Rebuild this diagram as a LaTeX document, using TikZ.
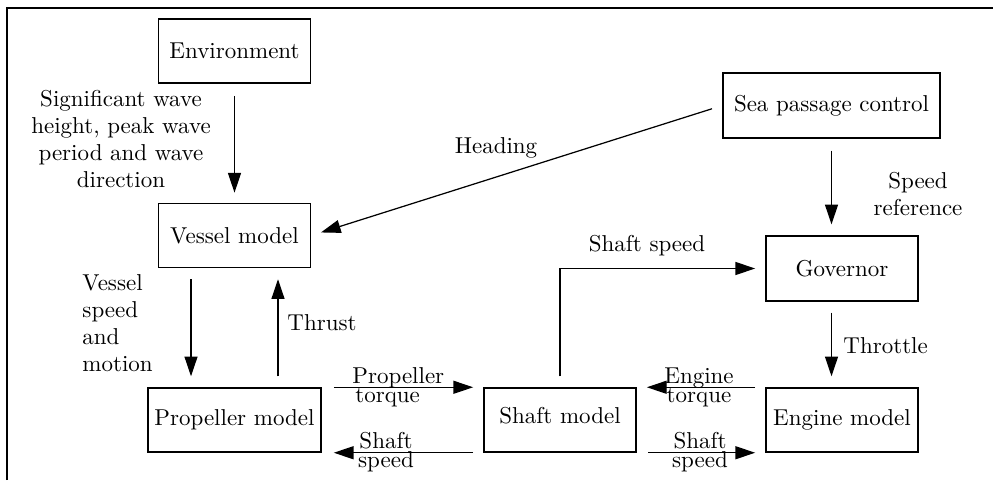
\documentclass[tikz,border=0pt]{standalone}
\usetikzlibrary{arrows.meta}
\begin{document}
\begin{tikzpicture}[x=0.446pt,y=-0.446pt,
  every node/.style={font={\fontsize{10.25}{12}\selectfont}},
  blk/.style={draw,line width=0.6pt,minimum width=67.9pt,minimum height=28.6pt,inner sep=0pt},
  arr/.style={line width=0.55pt,-{Triangle[length=8.8pt,width=5.8pt]}},
  lbl/.style={inner sep=0pt,align=center},
  tight/.style={inner sep=0pt,font={\fontsize{10.25}{8.5}\selectfont}},
  frame/.style={line width=0.6pt}]
\useasboundingbox (0,0) rectangle (993,480);
\draw[frame] (7,480) -- (7,8) -- (993,8);
% blocks
\node[blk] (env) at (234.5,51) {Environment};
\node[blk] (vessel) at (234.5,235.5) {Vessel model};
\node[blk,minimum width=96.8pt,minimum height=29pt] (sea) at (831.5,105.5) {Sea passage control};
\node[blk,minimum height=29pt] (gov) at (842,268.5) {Governor};
\node[blk,minimum width=77.2pt] (prop) at (234.5,420) {Propeller model};
\node[blk] (shaft) at (560,420) {\raisebox{4pt}{Shaft model}};
\node[blk] (engine) at (842,420) {Engine model};
% connectors
\draw[arr,shorten <=5.4pt,shorten >=4.5pt] (env) -- (vessel);
\draw[arr,shorten <=4.8pt,shorten >=4.5pt] (sea.west) -- (vessel.east);
\draw[arr,shorten <=5.3pt,shorten >=4.9pt] (sea.south) -- (sea.south |- gov.north);
\draw[arr,shorten <=4.9pt,shorten >=4.9pt] ([xshift=-19.4pt]vessel.south) -- ([xshift=-19.4pt]prop.north);
\draw[arr,shorten <=4.9pt,shorten >=4.9pt] ([xshift=19.4pt]prop.north) -- ([xshift=19.4pt]vessel.south);
\draw[arr,shorten <=4.9pt,shorten >=4.5pt] (shaft.north) |- (gov.west);
\draw[arr,shorten <=4.9pt,shorten >=4.9pt] (gov.south -| sea.south) -- (engine.north -| sea.south);
\draw[arr,shorten <=5.4pt,shorten >=4.5pt] (prop.north east) -- (shaft.north west);
\draw[arr,shorten <=4.5pt,shorten >=5.4pt] (shaft.south west) -- (prop.south east);
\draw[arr,shorten <=4.5pt,shorten >=4.5pt] (engine.north west) -- (shaft.north east);
\draw[arr,shorten <=5pt,shorten >=4.5pt] (shaft.south east) -- (engine.south west);
% labels
\node[lbl] (lsig) at (121,139) {Significant wave\\height, peak wave\\period and wave\\direction};
\node[lbl] (lhead) at (496,148) {Heading};
\node[lbl] (lsref) at (918,194) {Speed\\reference};
\node[lbl] (lss) at (647,246) {Shaft speed};
\node[lbl,anchor=west,align=left] (lvsm) at (82,323) {Vessel\\speed\\and\\motion};
\node[lbl,anchor=west] (lthr) at (287,323) {Thrust};
\node[lbl,anchor=west] (lthro) at (843,346) {Throttle};
\node[tight,anchor=west,align=left] (lpt) at (352,387) {Propeller\\\hspace*{1.3pt}torque};
\node[tight,align=center] (lss1) at (386,452) {Shaft\\speed};
\node[tight,align=center] (let) at (699,387) {Engine\\torque};
\node[tight,align=center] (lss2) at (700,452) {Shaft\\speed};
\end{tikzpicture}
\end{document}
